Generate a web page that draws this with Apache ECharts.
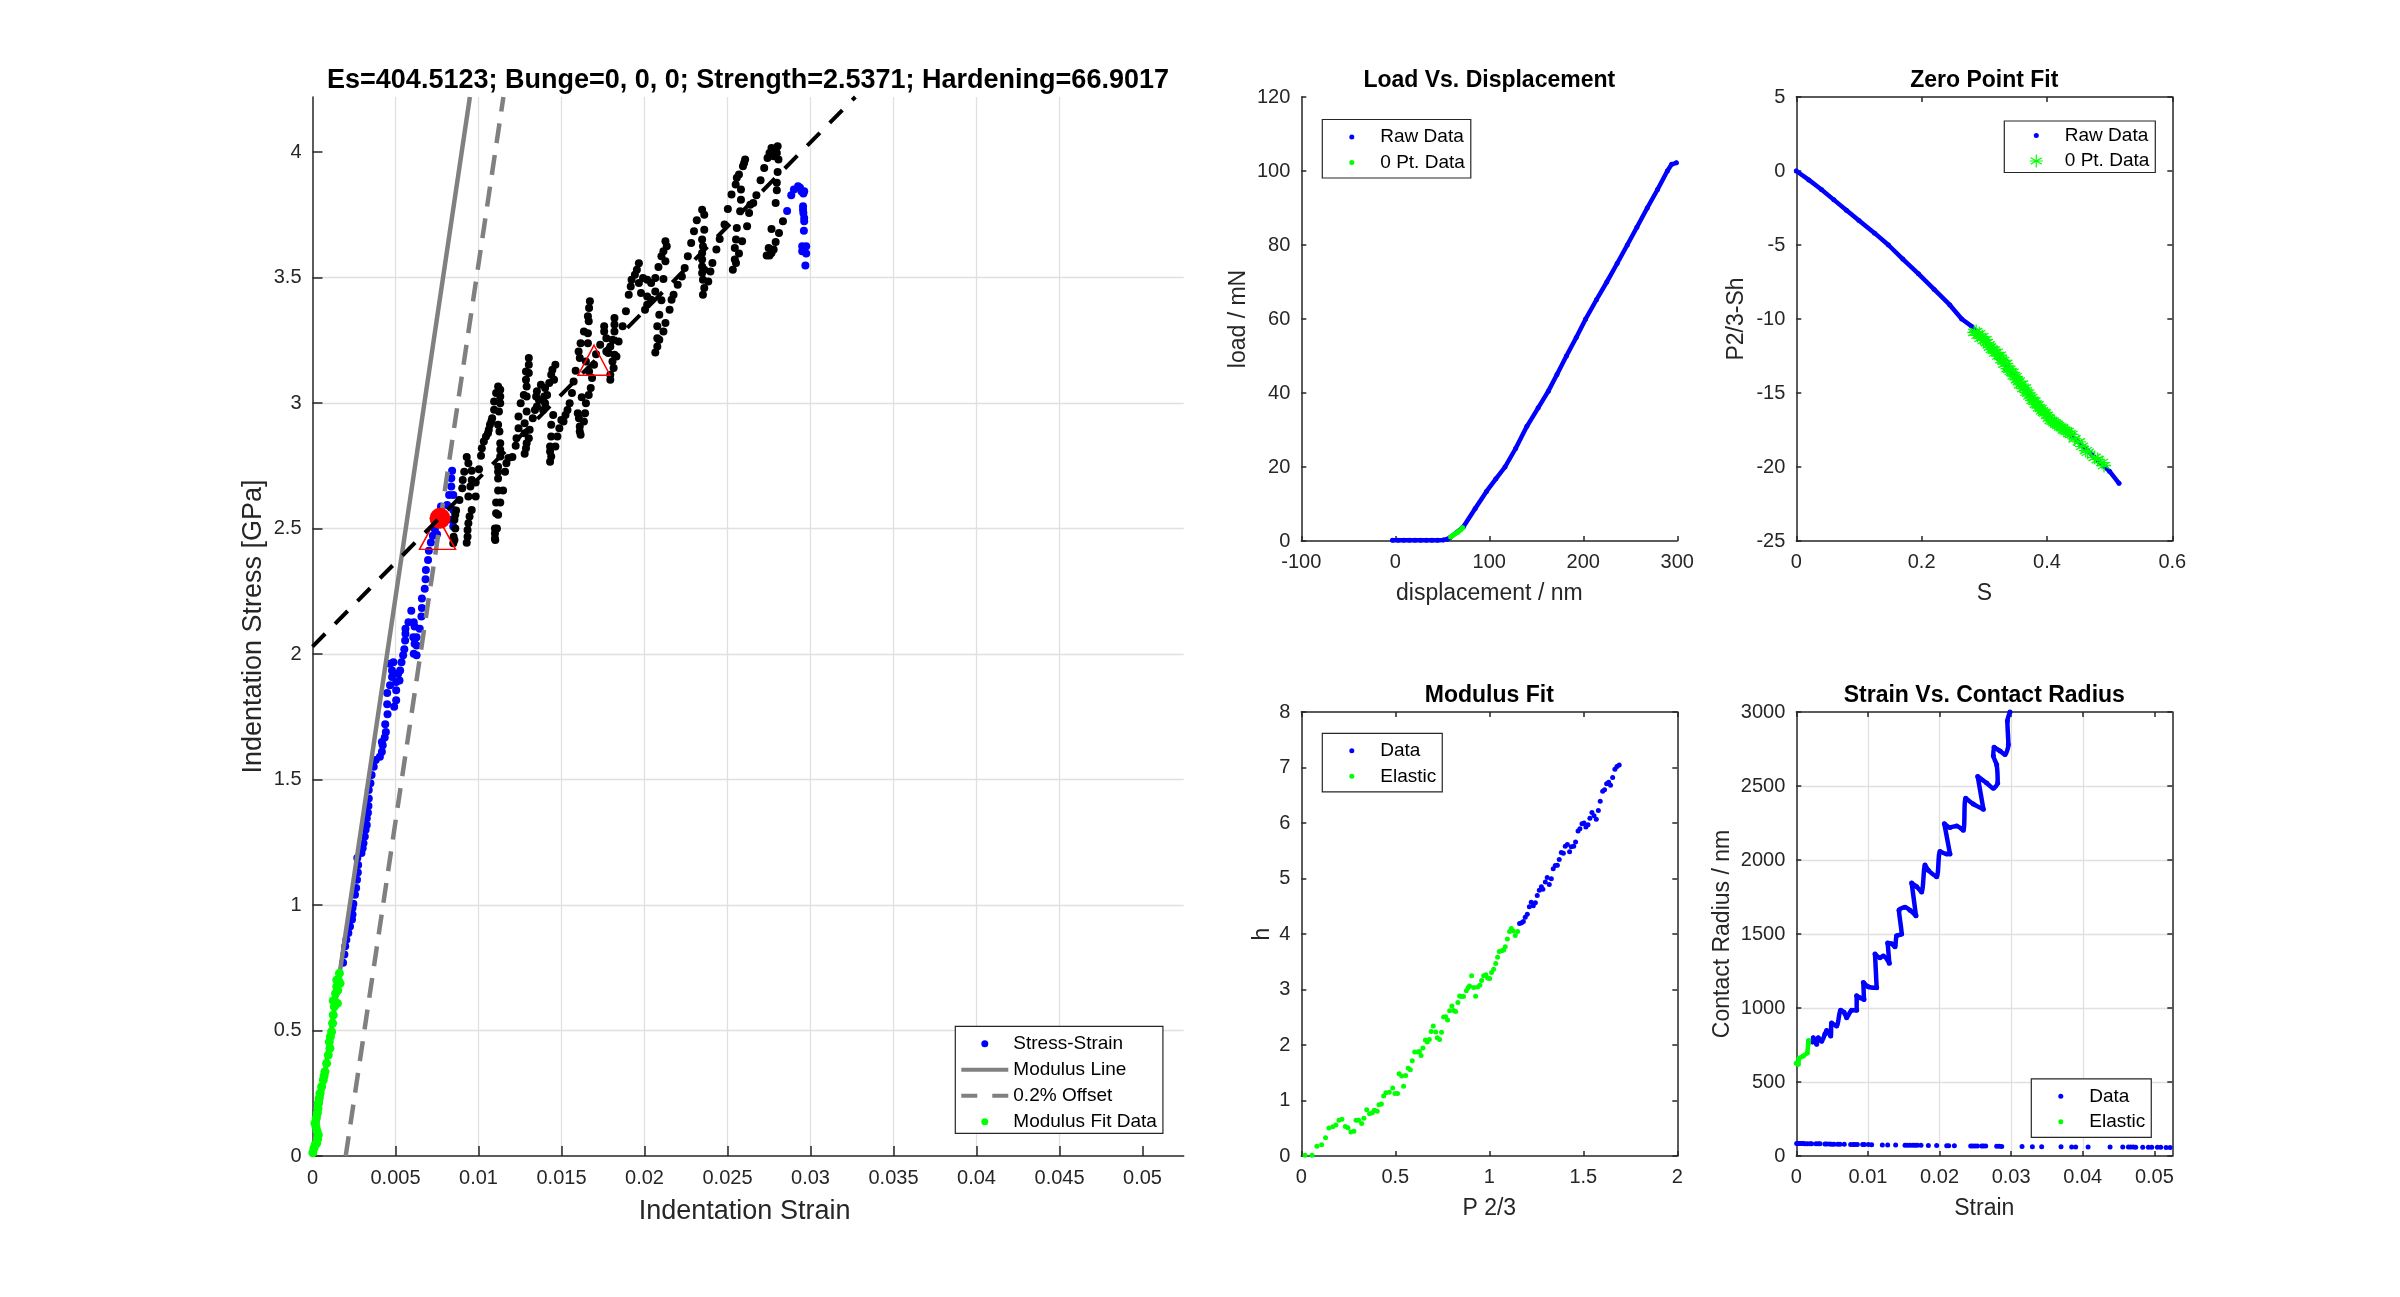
<!DOCTYPE html>
<html><head><meta charset="utf-8">
<style>html,body{margin:0;padding:0;background:#fff}#c{width:2400px;height:1297px}</style>
<script src="https://cdn.jsdelivr.net/npm/echarts@6/dist/echarts.min.js"></script>
</head><body><div id="c"></div>
<script>
// ---------- values ----------
const titleMain = 'Es=404.5123; Bunge=0, 0, 0; Strength=2.5371; Hardening=66.9017';
const fitGreen = [[.00002,.013],[.00009,.031],[.00016,.045],[.00025,.051],[.00031,.068],[.00035,.084],[.00027,.1],[.00021,.117],[.00015,.13],[.00022,.15],[.00029,.17],[.00033,.19],[.00035,.21],[.0004,.23],[.00045,.25],[.00055,.276],[.00065,.303],[.0007,.32],[.00075,.336],[.00085,.369],[.00095,.402],[.00105,.429],[.00101,.455],[.00108,.475],[.00115,.495],[.00121,.529],[.00125,.562],[.00131,.595],[.00135,.615],[.00125,.619],[.0015,.608],[.00139,.648],[.00146,.675],[.00146,.701],[.00162,.728],[.00156,.701],[.00166,.688],[.00152,.66]];
const blueLow = [[.00184,.77],[.00192,.803],[.00197,.836],[.00204,.862],[.00216,.889],[.00226,.915],[.00238,.942],[.00241,.962],[.00241,.988],[.00246,1.005],[.00256,1.041],[.00263,1.068],[.00268,1.101],[.00273,1.13],[.00275,1.16],[.0027,1.187],[.00295,1.207],[.00302,1.226],[.00307,1.246],[.00315,1.273],[.0032,1.3],[.00327,1.319],[.00327,1.346],[.00334,1.368],[.00337,1.395],[.00339,1.425],[.00339,1.458],[.00349,1.485],[.00356,1.518],[.00369,1.551],[.00381,1.578],[.00406,1.591],[.00418,1.611],[.00423,1.637],[.00418,1.65],[.00435,1.668],[.00442,1.69],[.00438,1.72],[.00452,1.76],[.0045,1.8],[.0045,1.845],[.00467,1.876],[.00492,1.79],[.00504,1.816],[.00504,1.856],[.00504,1.889],[.00479,1.909],[.00479,1.935],[.00467,1.962],[.00487,1.968],[.00516,1.922],[.00524,1.895],[.00528,1.935],[.00536,1.968],[.00546,1.995],[.00553,2.019],[.00558,2.054],[.0056,2.081],[.0056,2.101],[.00578,2.127],[.00595,2.173],[.0061,2.127],[.00615,2.11],[.00607,2.067],[.00627,2.067],[.00615,2.041],[.00627,2.034],[.0061,2.001],[.00627,1.995],[.00646,2.101],[.00656,2.15],[.00659,2.184],[.00659,2.222],[.00676,2.26],[.00681,2.298],[.00683,2.335],[.00696,2.375],[.00701,2.412],[.00713,2.445],[.00725,2.472],[.0075,2.478],[.00737,2.498],[.00841,2.731],[.00836,2.701],[.00836,2.668],[.00823,2.634],[.00848,2.634],[.00811,2.594],[.00848,2.574],[.00836,2.535],[.00848,2.508],[.00774,2.588],[.0075,2.548]];
const blueEnd = [[.02859,3.766],[.02884,3.828],[.029,3.851],[.02925,3.864],[.02937,3.858],[.02945,3.844],[.02962,3.844],[.02957,3.835],[.02955,3.785],[.02955,3.771],[.02957,3.758],[.02962,3.738],[.02962,3.725],[.0296,3.687],[.0295,3.625],[.02974,3.625],[.0295,3.605],[.02962,3.616],[.02974,3.596],[.02969,3.549]];
const blackA = [[.00929,2.785],[.00939,2.761],[.00914,2.727],[.00959,2.731],[.00905,2.694],[.00959,2.694],[.00983,2.684],[.00902,2.661],[.00951,2.668],[.00983,2.628],[.00939,2.628],[.00885,2.614],[.00865,2.572],[.00959,2.574],[.00946,2.548],[.0086,2.555],[.00855,2.535],[.00939,2.521],[.0086,2.501],[.00934,2.495],[.0085,2.468],[.00934,2.468],[.00848,2.442],[.00929,2.444],[.00855,2.455],[.01003,2.737]];
const blackB = [[.01118,3.066],[.01131,3.053],[.01106,3.04],[.01131,3.027],[.01094,3.007],[.01131,3],[.01094,2.974],[.01123,2.967],[.01082,2.94],[.01077,2.927],[.01118,2.914],[.01069,2.914],[.01062,2.894],[.01126,2.887],[.01057,2.88],[.01045,2.867],[.01032,2.847],[.01131,2.84],[.0102,2.82],[.01131,2.814],[.01015,2.79],[.01131,2.787],[.01118,2.747],[.0118,2.781],[.01204,2.785],[.01168,2.761],[.01118,2.727],[.0116,2.727],[.01118,2.7],[.01118,2.652],[.01148,2.652],[.01106,2.604],[.01131,2.604],[.01106,2.561],[.01118,2.555],[.01099,2.501],[.01111,2.501],[.01099,2.481],[.01099,2.461],[.01101,2.455]];
const blackC = [[.01303,3.18],[.01303,3.153],[.01286,3.126],[.01303,3.12],[.01286,3.093],[.0129,3.066],[.01273,3.033],[.0129,3.027],[.01254,3],[.0129,2.967],[.01241,2.947],[.01327,2.94],[.01278,2.92],[.01241,2.9],[.01308,2.894],[.01278,2.88],[.01229,2.86],[.01303,2.86],[.0129,2.84],[.01224,2.83],[.01286,2.82],[.01278,2.798]];
const blackD = [[.01463,3.153],[.01445,3.133],[.01438,3.113],[.01376,3.073],[.01426,3.08],[.01401,3.06],[.01455,3.093],[.01352,3.047],[.01413,3.033],[.01364,3.013],[.01401,3],[.01352,2.987],[.01389,2.973],[.0134,2.973],[.0145,2.953],[.01499,2.933],[.01438,2.914],[.01512,2.927],[.01487,2.9],[.01475,2.867],[.01438,2.867],[.01463,2.827],[.01431,2.827],[.01431,2.807],[.01438,2.787],[.01431,2.767],[.01549,3],[.01536,2.973],[.01524,2.953],[.01563,3.04],[.01573,3.086],[.01396,3.027],[.01347,3.027]];
const blackE = [[.01671,3.406],[.01666,3.379],[.01659,3.346],[.01664,3.326],[.01635,3.286],[.01659,3.279],[.01615,3.239],[.01659,3.239],[.01603,3.206],[.0161,3.18],[.01647,3.166],[.01585,3.129],[.01666,3.126],[.01696,3.153],[.01684,3.1],[.01676,3.06],[.01622,3.024],[.01664,3.033],[.01647,3],[.01598,2.96],[.01642,2.96],[.01605,2.94],[.01635,2.927],[.0161,2.907],[.0161,2.887],[.01615,2.874]];
const blackF = [[.01757,3.306],[.01819,3.339],[.01819,3.313],[.01757,3.286],[.01819,3.286],[.0177,3.259],[.01733,3.233],[.01807,3.253],[.01844,3.246],[.01794,3.226],[.0177,3.206],[.01819,3.193],[.01831,3.186],[.01807,3.166],[.01814,3.14],[.01794,3.113],[.01794,3.093],[.01782,3.2],[.01708,3.195],[.01888,3.366],[.01868,3.306]];
const blackG = [[.01966,3.558],[.01954,3.532],[.01942,3.512],[.01922,3.492],[.01991,3.499],[.02016,3.492],[.01917,3.465],[.01966,3.479],[.01979,3.439],[.01905,3.432],[.02065,3.499],[.0204,3.479],[.02114,3.495],[.02065,3.445],[.02016,3.425],[.0204,3.412],[.02102,3.41],[.02016,3.392],[.02003,3.372],[.02089,3.352],[.02151,3.372],[.02077,3.306],[.02126,3.319],[.02114,3.286],[.02077,3.259],[.02089,3.253],[.02077,3.226],[.02065,3.202],[.02163,3.412],[.02175,3.432],[.022,3.472],[.02225,3.505],[.02242,3.539],[.02126,3.645],[.02134,3.625],[.02114,3.605],[.02102,3.585],[.02126,3.565],[.02084,3.543]];
const blackH = [[.02347,3.771],[.0236,3.751],[.02315,3.729],[.0236,3.691],[.02298,3.685],[.02281,3.638],[.02347,3.652],[.02352,3.625],[.02261,3.585],[.02347,3.598],[.02347,3.572],[.02347,3.545],[.0236,3.532],[.02347,3.519],[.02352,3.492],[.02384,3.485],[.0236,3.459],[.02352,3.432],[.02409,3.559],[.02433,3.612],[.02453,3.654],[.02397,3.525],[.02482,3.712]];
const blackI = [[.02606,3.971],[.026,3.957],[.02593,3.944],[.02569,3.911],[.02556,3.898],[.02549,3.871],[.02581,3.851],[.02524,3.831],[.02581,3.811],[.02502,3.774],[.0263,3.758],[.02576,3.765],[.02655,3.798],[.02618,3.705],[.02556,3.698],[.02551,3.652],[.02588,3.645],[.02544,3.618],[.02569,3.596],[.02544,3.572],[.02551,3.559],[.02532,3.532],[.02637,3.791],[.02674,3.828]];
const blackJ = [[.02765,4.017],[.02802,4.024],[.02785,4.01],[.02797,3.997],[.02753,3.997],[.02741,3.977],[.02778,3.984],[.02807,3.971],[.02721,3.937],[.02802,3.921],[.02699,3.888],[.02797,3.878],[.02797,3.848],[.0279,3.798],[.02834,3.725],[.02765,3.694],[.0281,3.678],[.0279,3.642],[.02748,3.618],[.02778,3.612],[.02765,3.598],[.02736,3.588],[.02753,3.588]];
const modulusLine = [[0,0],[.00948,4.22]];
const offsetLine = [[.002,0],[.0115,4.22]];
const hardeningLine = [[0,2.03],[.0327,4.22]];
const yieldPoint = [[.00768,2.541]];
const triangles = [[.00753,2.483],[.01696,3.171]];
const ticksMainX = [0,.005,.01,.015,.02,.025,.03,.035,.04,.045,.05];
const ticksMainY = [0,.5,1,1.5,2,2.5,3,3.5,4];

const rawLoad = [[-3,.2],[3,.2],[9,.2],[15,.2],[21,.2],[27,.2],[33,.2],[39,.2],[45,.2],[51,.3],[55,.5],[58,.9],[72.3,3.8],[85,8.8],[97,13.4],[107,16.8],[116.7,20],[128,25],[140,31],[152,36],[162.8,40.5],[172,45],[182,50],[192.5,55],[202.5,60],[214,65.2],[225,70],[236,75],[246.8,80],[257,84.8],[268,90],[279,95],[289.4,100],[294,101.8],[299,102.2]];
const zeroLoad = [[58.9,1.1],[61,1.5],[63.5,1.9],[66,2.3],[68,2.7],[70,3.1],[71.6,3.6]];
const rawFit = [[0,0],[.02,-.6],[.04,-1.25],[.06,-1.95],[.08,-2.65],[.1,-3.35],[.125,-4.2],[.147,-5],[.17,-5.95],[.195,-6.95],[.22,-8],[.245,-9.05],[.264,-10],[.28,-10.5],[.35,-13.9],[.4,-16.5],[.44,-17.9],[.49,-19.9],[.5,-20.3],[.515,-21.1]];
const zeroFit = [[.284,-10.9],[.287,-10.85],[.289,-11.1],[.292,-11],[.294,-11.3],[.297,-11.2],[.299,-11.45],[.302,-11.4],[.304,-11.6],[.307,-11.75],[.309,-11.9],[.312,-12.05],[.315,-12.1],[.317,-12.3],[.32,-12.25],[.322,-12.5],[.325,-12.45],[.327,-12.75],[.33,-12.8],[.332,-13.05],[.335,-13],[.337,-13.35],[.34,-13.4],[.342,-13.55],[.345,-13.6],[.347,-13.85],[.35,-13.9],[.352,-14.1],[.355,-14.2],[.357,-14.45],[.36,-14.4],[.362,-14.7],[.365,-14.65],[.367,-14.95],[.37,-15],[.372,-15.2],[.375,-15.3],[.377,-15.5],[.38,-15.55],[.382,-15.75],[.385,-15.8],[.387,-16],[.39,-16.05],[.392,-16.2],[.395,-16.3],[.397,-16.35],[.4,-16.5],[.403,-16.7],[.406,-16.85],[.409,-16.9],[.412,-17],[.415,-17.1],[.418,-17.2],[.421,-17.3],[.424,-17.35],[.427,-17.5],[.43,-17.55],[.433,-17.6],[.436,-17.75],[.439,-17.8],[.444,-18.1],[.451,-18.3],[.456,-18.6],[.462,-18.9],[.465,-19],[.476,-19.35],[.481,-19.5],[.488,-19.7],[.491,-19.9]];
const elasticModulus = [[.02,.013],[.057,.013],[.083,.177],[.108,.203],[.129,.328],[.147,.505],[.167,.525],[.184,.557],[.2,.643],[.216,.662],[.234,.531],[.248,.511],[.264,.433],[.28,.446],[.291,.643],[.305,.643],[.321,.584],[.333,.682],[.348,.833],[.363,.761],[.378,.78],[.388,.826],[.404,.807],[.413,.925],[.426,.938],[.438,1.082],[.45,1.141],[.468,1.148],[.486,1.226],[.498,1.128],[.512,1.128],[.52,1.482],[.534,1.443],[.544,1.259],[.555,1.449],[.569,1.58],[.58,1.554],[.59,1.718],[.603,1.875],[.617,1.875],[.628,1.882],[.637,1.81],[.647,1.948],[.66,2.092],[.67,2.052],[.681,2.098],[.691,2.243],[.702,2.341],[.715,2.236],[.723,2.131],[.736,2.098],[.746,2.23],[.757,2.505],[.768,2.511],[.778,2.452],[.789,2.616],[.801,2.702],[.81,2.623],[.821,2.603],[.833,2.767],[.842,2.885],[.853,2.872],[.863,2.872],[.878,2.977],[.887,3.03],[.895,3.062],[.906,3.246],[.917,3.036],[.927,2.879],[.938,3.043],[.95,3.075],[.959,3.161],[.97,3.246],[.982,3.266],[.991,3.207],[1.002,3.2],[1.012,3.305],[1.023,3.364],[1.034,3.469],[1.044,3.58],[1.053,3.685],[1.066,3.698],[1.076,3.711],[1.085,3.77],[1.096,3.908],[1.108,4.046],[1.117,4.098],[1.128,4.052],[1.138,3.974],[1.151,4.046]];
const dataModulus = [[1.161,4.19],[1.172,4.203],[1.181,4.223],[1.191,4.302],[1.202,4.354],[1.213,4.492],[1.223,4.57],[1.234,4.511],[1.245,4.564],[1.255,4.695],[1.266,4.787],[1.277,4.852],[1.285,4.807],[1.298,4.938],[1.308,5.016],[1.319,4.892],[1.33,4.997],[1.34,5.174],[1.351,5.233],[1.362,5.239],[1.372,5.344],[1.383,5.469],[1.394,5.456],[1.404,5.58],[1.415,5.613],[1.427,5.482],[1.436,5.574],[1.449,5.58],[1.459,5.659],[1.472,5.856],[1.482,5.895],[1.493,5.987],[1.504,6],[1.514,5.928],[1.525,5.967],[1.535,6.085],[1.546,6.19],[1.557,6.131],[1.569,6.066],[1.58,6.223],[1.59,6.393],[1.603,6.57],[1.613,6.597],[1.624,6.708],[1.635,6.734],[1.645,6.682],[1.656,6.82],[1.668,6.97],[1.679,7.016],[1.691,7.043]];
const elasticRadius = [[0,627],[.00028,620],[.00037,661],[.00098,676],[.00154,696],[.00168,762],[.00172,780]];
const dataRadius = [[.00172,775],[.00228,770],[.00237,799],[.00284,755],[.00307,799],[.00354,775],[.004,824],[.00424,848],[.0048,811],[.00493,898],[.00563,878],[.00619,984],[.00666,971],[.00703,934],[.00773,984],[.00843,984],[.00843,1082],[.00889,1070],[.00945,1057],[.00936,1173],[.01006,1143],[.01122,1136],[.01099,1365],[.01169,1340],[.01215,1352],[.01299,1303],[.01276,1439],[.01331,1434],[.01378,1414],[.01401,1488],[.01471,1500],[.01434,1660],[.01518,1680],[.01588,1660],[.01671,1623],[.01611,1844],[.01681,1820],[.0175,1783],[.01797,1967],[.01844,1930],[.0196,1886],[.02007,2058],[.021,2041],[.02146,2041],[.02067,2245],[.02146,2220],[.02239,2230],[.02332,2201],[.02365,2417],[.02472,2378],[.02612,2343],[.02533,2565],[.02658,2520],[.02751,2484],[.02812,2520],[.02798,2643],[.02751,2705],[.02761,2761],[.02844,2737],[.02914,2712],[.02961,2779],[.02947,2939],[.02984,3000]];
const floorRadius = [[.00005,84],[.00028,84],[.00051,84],[.00074,84],[.00098,84],[.00121,83],[.00154,83],[.00191,83],[.00214,83],[.00275,82],[.00307,82],[.00331,82],[.004,81],[.00424,81],[.00461,81],[.00493,80],[.00526,80],[.00577,80],[.0061,79],[.0067,79],[.00759,78],[.00796,78],[.00819,78],[.00852,78],[.00926,77],[.0095,77],[.01006,77],[.01052,76],[.01201,75],[.01276,75],[.01387,74],[.01518,73],[.0155,73],[.01587,73],[.01625,73],[.01657,72],[.0169,72],[.01741,72],[.01844,71],[.0196,71],[.021,70],[.02128,70],[.02207,69],[.02435,68],[.02463,68],[.02495,68],[.02528,67],[.02588,67],[.02612,67],[.02644,67],[.02798,66],[.02835,66],[.02868,65],[.03152,64],[.03296,63],[.03426,63],[.03696,62],[.03845,61],[.03901,61],[.04074,61],[.04381,60],[.04558,60],[.04637,60],[.0467,60],[.04707,60],[.04739,59],[.04837,59],[.04916,59],[.04963,59],[.05042,59],[.05088,59],[.05163,58],[.05219,58]];

// ---------- styling ----------
const FONT='Liberation Sans', INK='#262626', EDGE='#262626', GRID='#e0e0e0', BLUE='#0000ff', GREEN='#00ff00', GRAY='#808080';
const STAR='path://M0 -1L0 1M-.87 -.5L.87 .5M-.87 .5L.87 -.5M-1 0L1 0';
// legend samples span the full item box, so all texts start at the same x
const EXT5='M0 0L0 0M47 5L47 5', EXT7='M0 0L0 0M47 7L47 7', EXT13='M0 0L0 0M47 13L47 13';
const DOT5='path://'+EXT5+'M21 2.5a2.5 2.5 0 1 0 5 0a2.5 2.5 0 1 0 -5 0Z';
const DOT7='path://'+EXT7+'M20 3.5a3.5 3.5 0 1 0 7 0a3.5 3.5 0 1 0 -7 0Z';
const DOT13='path://'+EXT13+'M21 6.5a2.5 2.5 0 1 0 5 0a2.5 2.5 0 1 0 -5 0Z';
const STAR13='path://'+EXT13+'M23.5 0L23.5 13M17.9 3.25L29.1 9.75M17.9 9.75L29.1 3.25M17 6.5L30 6.5';
const SOLID7='path://'+EXT7+'M0 1.5H47V5.5H0Z';
const DASH7='path://'+EXT7+'M0 1.5H16V5.5H0ZM31 1.5H47V5.5H31Z';
const rects=[[312.5,1183.7,97,1156],[1301.3,1677.3,97,541],[1796.3,2172.3,97,541],[1301.3,1677.3,712,1156],[1796.3,2172.3,712,1156]];
const grid=rects.map(r=>({left:r[0],top:r[2],width:r[1]-r[0],height:r[3]-r[2],containLabel:false}));
function axis(type,gi,o){
  const isX=type==='x';
  const main={gridIndex:gi,type:'value',min:o.min,max:o.max,interval:o.step,position:isX?'bottom':'left',
    name:o.name,nameLocation:'middle',nameGap:o.gap,nameTextStyle:{fontFamily:FONT,fontSize:o.ns||23,color:INK,padding:o.np||0},
    axisLine:{show:true,onZero:false,lineStyle:{color:EDGE,width:1.5}},
    axisTick:{show:true,inside:true,length:o.tl||5,customValues:o.ticks,lineStyle:{color:EDGE,width:1.5}},
    axisLabel:{show:true,margin:o.m||11,fontFamily:FONT,fontSize:20,color:INK,customValues:o.ticks,hideOverlap:false,showMinLabel:true,showMaxLabel:true,formatter:v=>String(+v.toFixed(4))},
    splitLine:{show:!!o.grid,showMinLine:false,showMaxLine:false,lineStyle:{color:GRID,width:1.3}}};
  const res=[main];
  if(o.box){res.push({gridIndex:gi,type:'value',min:o.min,max:o.max,interval:o.step,position:isX?'top':'right',
    axisLine:{show:true,onZero:false,lineStyle:{color:EDGE,width:1.5}},
    axisTick:{show:true,inside:true,length:o.tl||5,customValues:o.ticks,lineStyle:{color:EDGE,width:1.5}},
    axisLabel:{show:false},splitLine:{show:false}});}
  return res;
}
const xAxis=[
  ...axis('x',0,{min:0,max:.05248,step:.005,ticks:ticksMainX,name:'Indentation Strain',gap:42.5,ns:27,tl:10,grid:true,m:12,np:[0,7,0,0]}),
  ...axis('x',1,{min:-100,max:300,step:100,ticks:[-100,0,100,200,300],name:'displacement / nm',gap:41.5}),
  ...axis('x',2,{min:0,max:.6,step:.2,ticks:[0,.2,.4,.6],name:'S',gap:41.5,box:true}),
  ...axis('x',3,{min:0,max:2,step:.5,ticks:[0,.5,1,1.5,2],name:'P 2/3',gap:41.5,box:true}),
  ...axis('x',4,{min:0,max:.0525,step:.01,ticks:[0,.01,.02,.03,.04,.05],name:'Strain',gap:41.5,box:true,grid:true})
];
const yAxis=[
  ...axis('y',0,{min:0,max:4.22,step:.5,ticks:ticksMainY,name:'Indentation Stress [GPa]',gap:45,ns:27,tl:10,grid:true}),
  ...axis('y',1,{min:0,max:120,step:20,ticks:[0,20,40,60,80,100,120],name:'load / mN',gap:51}),
  ...axis('y',2,{min:-25,max:5,step:5,ticks:[-25,-20,-15,-10,-5,0,5],name:'P2/3-Sh',gap:48,box:true}),
  ...axis('y',3,{min:0,max:8,step:1,ticks:[0,1,2,3,4,5,6,7,8],name:'h',gap:27,box:true}),
  ...axis('y',4,{min:0,max:3000,step:500,ticks:[0,500,1000,1500,2000,2500,3000],name:'Contact Radius / nm',gap:62,box:true,grid:true})
];
// axis index of the primary axes in each grid
const X=[0,1,2,4,6], Y=[0,1,2,4,6];
function dots(name,g,data,color,size,z){return {name,type:'scatter',xAxisIndex:X[g],yAxisIndex:Y[g],data,symbol:'circle',symbolSize:size,itemStyle:{color,borderWidth:0,opacity:1},z:z||2,silent:true,animation:false};}
function stroke(name,g,data,color,z,smooth){return {name,type:'line',xAxisIndex:X[g],yAxisIndex:Y[g],data,symbol:'circle',symbolSize:5,showAllSymbol:true,smooth:smooth||false,itemStyle:{color},lineStyle:{color,width:4.5,join:'round',cap:'round'},z:z||2,silent:true,animation:false};}
function rule(name,data,color,width,dash,z){return {name,type:'line',xAxisIndex:0,yAxisIndex:0,data,symbol:'none',itemStyle:{color},lineStyle:{color,width,type:dash||'solid'},z,silent:true,animation:false};}
const blackAll=[...blackA,...blackB,...blackC,...blackD,...blackE,...blackF,...blackG,...blackH,...blackI,...blackJ];
const series=[
  dots('Stress-Strain',0,[...blueLow,...blueEnd],BLUE,8,2),
  dots('Plastic Range',0,blackAll,'#000000',8,2),
  rule('Modulus Line',modulusLine,GRAY,4.5,null,3),
  rule('0.2% Offset',offsetLine,GRAY,4.5,[20,12],3),
  dots('Modulus Fit Data',0,fitGreen,GREEN,9,4),
  {name:'Yield Markers',type:'scatter',xAxisIndex:0,yAxisIndex:0,data:triangles,symbol:'triangle',symbolSize:(v,p)=>p.dataIndex===0?[36,33]:[32,30],itemStyle:{color:'none',borderColor:'#ff0000',borderWidth:1.5,opacity:1},z:5,silent:true,animation:false},
  dots('Yield Point',0,yieldPoint,'#ff0000',21,6),
  rule('Hardening Line',hardeningLine,'#000000',4,[18,14],7),
  stroke('Raw Data',1,rawLoad,BLUE,2),
  stroke('0 Pt. Data',1,zeroLoad,GREEN,3),
  stroke('Raw Data',2,rawFit,BLUE,2),
  {name:'0 Pt. Data',type:'scatter',xAxisIndex:X[2],yAxisIndex:Y[2],data:zeroFit,symbol:STAR,symbolSize:14,itemStyle:{color:'none',borderColor:GREEN,borderWidth:1.3,opacity:1},z:3,silent:true,animation:false},
  dots('Data',3,dataModulus,BLUE,5,2),
  dots('Elastic',3,elasticModulus,GREEN,5,2),
  stroke('Data',4,dataRadius,BLUE,2,.25),
  stroke('Elastic',4,elasticRadius,GREEN,3),
  dots('Data',4,floorRadius,BLUE,5,2)
];
function legend(left,top,items,h,gap,pad){
  return {show:true,orient:'vertical',left,top,data:items,itemWidth:47,itemHeight:h,itemGap:gap,padding:pad||[8,6,6,6],
    backgroundColor:'#ffffff',borderColor:EDGE,borderWidth:1.2,borderRadius:0,selectedMode:false,symbolKeepAspect:true,z:10,
    textStyle:{fontFamily:FONT,fontSize:19,color:'#000000'}};
}
const icon=(name,c,ic)=>({name,icon:ic,itemStyle:{color:c,borderWidth:0}});
const legends=[
  legend(955.3,1026.3,[icon('Stress-Strain',BLUE,DOT7),icon('Modulus Line',GRAY,SOLID7),icon('0.2% Offset',GRAY,DASH7),icon('Modulus Fit Data',GREEN,DOT7)],7,7,[8,6,2,6]),
  legend(1322.3,119.5,[icon('Raw Data',BLUE,DOT5),icon('0 Pt. Data',GREEN,DOT5)],5,6.5),
  legend(2004.3,121,[icon('Raw Data',BLUE,DOT13),{name:'0 Pt. Data',icon:STAR13,itemStyle:{color:'none',borderColor:GREEN,borderWidth:1.2}}],13,6.5,[5,6,2,6]),
  legend(1322.3,733.3,[icon('Data',BLUE,DOT5),icon('Elastic',GREEN,DOT5)],5,6.5),
  legend(2031.3,1078.8,[icon('Data',BLUE,DOT5),icon('Elastic',GREEN,DOT5)],5,6.5)
];
const ttl=(text,cx,top,size)=>({text,left:cx,top,textAlign:'center',padding:0,textStyle:{fontFamily:FONT,fontWeight:'bold',fontSize:size,color:'#000'}});
const title=[
  ttl(titleMain,748,67.5,27),
  ttl('Load Vs. Displacement',1489.3,69,23),
  ttl('Zero Point Fit',1984.3,69,23),
  ttl('Modulus Fit',1489.3,684,23),
  ttl('Strain Vs. Contact Radius',1984.3,684,23)
];
const chart=echarts.init(document.getElementById('c'),null,{renderer:'canvas',width:2400,height:1297});
chart.setOption({animation:false,backgroundColor:'#ffffff',title,grid,xAxis,yAxis,legend:legends,series});
</script></body></html>
